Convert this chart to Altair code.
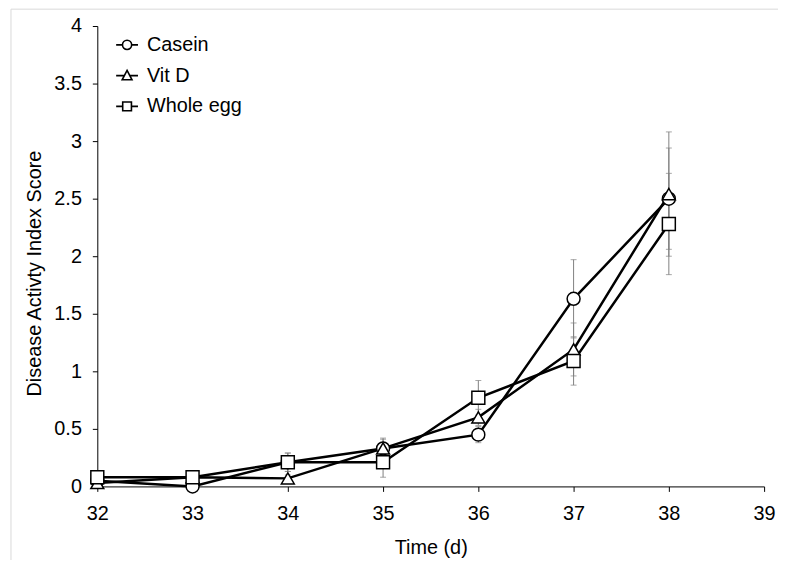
import altair as alt
import pandas as pd

days = [32, 33, 34, 35, 36, 37, 38]
series_names = ["Casein", "Vit D", "Whole egg"]
casein_mean = [0.05, 0.00, 0.21, 0.33, 0.45, 1.63, 2.50]
casein_err = [0.03, 0.02, 0.08, 0.09, 0.07, 0.34, 0.44]
vitd_mean = [0.03, 0.08, 0.07, 0.33, 0.60, 1.19, 2.54]
vitd_err = [0.02, 0.03, 0.03, 0.08, 0.07, 0.23, 0.54]
egg_mean = [0.08, 0.08, 0.21, 0.21, 0.77, 1.09, 2.28]
egg_err = [0.03, 0.03, 0.08, 0.13, 0.15, 0.21, 0.44]

rows = []
for name, m, e in zip(series_names, [casein_mean, vitd_mean, egg_mean], [casein_err, vitd_err, egg_err]):
    for d, mv, ev in zip(days, m, e):
        rows.append({"Day": d, "Series": name, "Mean": mv, "SE": ev})
df = pd.DataFrame(rows)

FONT = "Liberation Sans"
FS = 20

xscale = alt.Scale(domain=[32, 39], nice=False, zero=False)
yscale = alt.Scale(domain=[0, 4], nice=False)

xenc = alt.X("Day:Q", scale=xscale,
             axis=alt.Axis(title="Time (d)", values=list(range(32, 40)), format="d",
                           labelFlush=False, labelPadding=12, titlePadding=15))
yenc = alt.Y("Mean:Q", scale=yscale,
             axis=alt.Axis(title="Disease Activty Index Score",
                           values=[0, 0.5, 1, 1.5, 2, 2.5, 3, 3.5, 4], format="~g",
                           labelFlush=False, labelPadding=11, titleX=-63, titleY=249,
                           titleAlign="center", titleBaseline="middle", titleAngle=270))

base = alt.Chart(df)
calc = base.transform_calculate(lo="datum.Mean - datum.SE", hi="datum.Mean + datum.SE")

err_rule = calc.mark_rule(color="#808080", strokeWidth=1).encode(
    x=xenc, y=alt.Y("lo:Q", scale=yscale), y2="hi:Q")
cap_hi = calc.mark_tick(color="#808080", thickness=1, size=6, orient="horizontal").encode(
    x=xenc, y=alt.Y("hi:Q", scale=yscale))
cap_lo = calc.mark_tick(color="#808080", thickness=1, size=6, orient="horizontal").encode(
    x=xenc, y=alt.Y("lo:Q", scale=yscale))

lines = base.mark_line(color="black", strokeWidth=2.5).encode(
    x=xenc, y=yenc, detail="Series:N", order="Day:Q")

points = base.mark_point(filled=True, fill="white", stroke="black", strokeWidth=1.5,
                         size=170, opacity=1).encode(
    x=xenc, y=yenc,
    shape=alt.Shape("Series:N",
                    scale=alt.Scale(domain=series_names, range=["circle", "triangle-up", "square"]),
                    legend=None))

circle_path = "M-1,0L-0.42,0M0.42,0A0.42,0.42,0,1,1,-0.42,0A0.42,0.42,0,1,1,0.42,0M0.42,0L1,0"
tri_path = "M-1,0L-0.24,0M0.24,0L1,0M0,-0.48L0.45,0.38L-0.45,0.38Z"
sq_path = "M-1,0L-0.4,0M0.4,0L1,0M-0.4,-0.4L0.4,-0.4L0.4,0.4L-0.4,0.4Z"

legend_layer = base.mark_point(filled=False, stroke="black", strokeWidth=1.5, opacity=0).encode(
    x=xenc, y=yenc,
    shape=alt.Shape("Series:N",
                    scale=alt.Scale(domain=series_names, range=[circle_path, tri_path, sq_path]),
                    legend=alt.Legend(title=None, orient="none", legendX=18, legendY=7,
                                      symbolSize=484, symbolFillColor="white",
                                      symbolStrokeColor="black", symbolStrokeWidth=1.6,
                                      symbolOpacity=1,
                                      labelFont=FONT, labelFontSize=FS, labelColor="black",
                                      labelOffset=8, rowPadding=9, padding=0)))

border_left = alt.Chart(pd.DataFrame({"k": [0]})).mark_rule(color="#d9d9d9", strokeWidth=1).encode(
    x=alt.value(-87), y=alt.value(-17), y2=alt.value(560))
border_top = alt.Chart(pd.DataFrame({"k": [0]})).mark_rule(color="#d9d9d9", strokeWidth=1).encode(
    x=alt.value(-87), x2=alt.value(700), y=alt.value(-17))

chart = alt.layer(border_left, border_top, err_rule, cap_hi, cap_lo, lines, points, legend_layer).resolve_scale(
    shape="independent"
).properties(
    width=672, height=464,
    autosize=alt.AutoSizeParams(type="none"),
    padding={"left": 90, "top": 16, "right": 14, "bottom": 72},
).configure_view(stroke=None).configure_axis(
    grid=False, domainColor="black", tickColor="black", tickSize=5, domainWidth=1, tickWidth=1,
    labelFont=FONT, labelFontSize=FS, labelColor="black",
    titleFont=FONT, titleFontSize=FS, titleColor="black", titleFontWeight="normal",
)

chart.save("out.html", embed_options={"renderer": "svg", "actions": False})
